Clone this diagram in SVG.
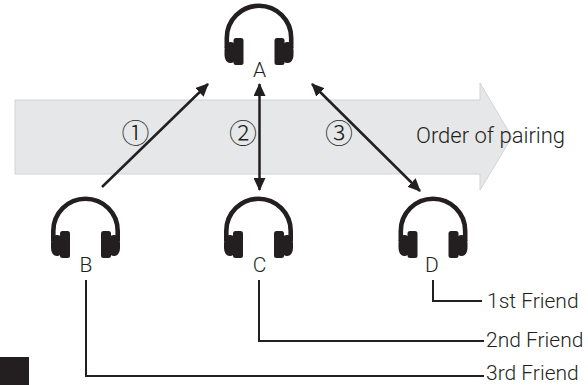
<svg xmlns="http://www.w3.org/2000/svg" width="588" height="385" viewBox="0 0 588 385">
  <defs>
    <style>
      .lbl { font-family: "Roboto", "Liberation Sans", Arial, sans-serif; font-weight: 300; font-size: 21px; fill: #231f20; }
      .num { font-family: "Noto Sans CJK JP", "DejaVu Sans", sans-serif; font-weight: 300; font-size: 28px; fill: #231f20; }
      .conn { fill: none; stroke: #231f20; stroke-width: 2.5; }
      .lead { fill: none; stroke: #231f20; stroke-width: 2; }
      .hp { fill: #231f20; }
    </style>
    <marker id="ah" viewBox="0 0 13 12" refX="12" refY="6" markerWidth="13" markerHeight="12" markerUnits="userSpaceOnUse" orient="auto-start-reverse">
      <path d="M0,0 L13,6 L0,12 Z" fill="#231f20"/>
    </marker>
    <g id="headphone">
      <path d="M -32.2,44 V 34 A 32.2 32.2 0 0 1 32.2 34 V 44" fill="none" stroke="#231f20" stroke-width="4.6"/>
      <rect class="hp" x="-34.5" y="38" width="12" height="21" rx="5.5" ry="8"/>
      <rect class="hp" x="22.5" y="38" width="12" height="21" rx="5.5" ry="8"/>
      <rect class="hp" x="-25.5" y="34" width="10" height="27" rx="2.5"/>
      <rect class="hp" x="15.5" y="34" width="10" height="27" rx="2.5"/>
    </g>
  </defs>

  <rect width="588" height="385" fill="#ffffff"/>

  <g id="order-arrow">
    <polygon points="15,100 480,100 480,83 512,137 480,190 480,174 15,174" fill="#e6e7e8" stroke="#d1d3d4" stroke-width="1"/>
    <text class="lbl" x="416" y="143" style="font-size:22px">Order of pairing</text>
  </g>

  <g id="node-A">
    <use href="#headphone" x="259" y="4"/>
    <text class="lbl" x="259.5" y="77" text-anchor="middle">A</text>
  </g>
  <g id="node-B">
    <use href="#headphone" x="85.5" y="197"/>
    <text class="lbl" x="86" y="272" text-anchor="middle">B</text>
  </g>
  <g id="node-C">
    <use href="#headphone" x="258.5" y="197"/>
    <text class="lbl" x="259.5" y="272" text-anchor="middle">C</text>
  </g>
  <g id="node-D">
    <use href="#headphone" x="433" y="197"/>
    <text class="lbl" x="432" y="272" text-anchor="middle">D</text>
  </g>

  <g id="connectors">
    <line class="conn" x1="102" y1="187" x2="208" y2="84" marker-end="url(#ah)"/>
    <line class="conn" x1="259.5" y1="84" x2="259.5" y2="190" marker-start="url(#ah)" marker-end="url(#ah)"/>
    <line class="conn" x1="312" y1="84" x2="420" y2="191" marker-start="url(#ah)" marker-end="url(#ah)"/>
    <path class="lead" d="M 86,280 V 376 H 484"/>
    <path class="lead" d="M 259,280 V 341 H 484"/>
    <path class="lead" d="M 433,280 V 301 H 482"/>
  </g>

  <g id="step-labels">
    <text class="num" x="135.5" y="144" text-anchor="middle">①</text>
    <text class="num" x="243" y="144" text-anchor="middle">②</text>
    <text class="num" x="339" y="144" text-anchor="middle">③</text>
  </g>

  <g id="friend-labels">
    <text class="lbl" x="487" y="308">1st Friend</text>
    <text class="lbl" x="486" y="347">2nd Friend</text>
    <text class="lbl" x="486" y="380">3rd Friend</text>
  </g>

  <rect id="corner-mark" x="0" y="357" width="29" height="28" fill="#231f20"/>
</svg>
